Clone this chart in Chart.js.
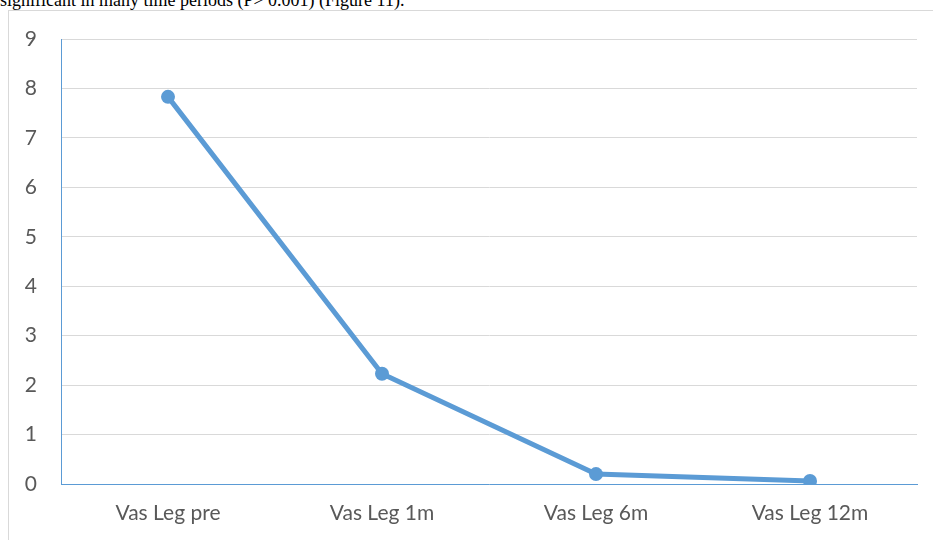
<!DOCTYPE html>
<html>
<head>
<meta charset="utf-8">
<script src="https://cdn.jsdelivr.net/npm/chart.js@4/dist/chart.umd.min.js"></script>
<style>
  html, body { margin: 0; padding: 0; background: #fff; overflow: hidden; }
  body { width: 933px; height: 540px; position: relative; }
  #caption {
    position: absolute; left: 0; top: -9px; margin: 0;
    font-family: "Liberation Serif", "Times New Roman", serif;
    font-size: 18px; line-height: 18px; color: #000; white-space: nowrap;
  }
  #frame {
    position: absolute; left: 8px; top: 10px; width: 940px; height: 560px;
    border: 1px solid #d9d9d9; box-sizing: border-box;
  }
  #wrap { position: absolute; left: 0; top: 0; width: 933px; height: 540px; }
</style>
</head>
<body>
<p id="caption">significant in many time periods (P&gt; 0.001) (Figure 11).</p>
<div id="frame"></div>
<div id="wrap"><canvas id="chart" width="933" height="540"></canvas></div>
<script>
// Vascular leg scores over follow-up
const categories = ["Vas Leg pre", "Vas Leg 1m", "Vas Leg 6m", "Vas Leg 12m"];
const scores = [7.83, 2.23, 0.2, 0.06];
const yTicks = [0, 1, 2, 3, 4, 5, 6, 7, 8, 9];

const blue = "#5b9bd5";
const textColor = "#595959";
const font = { family: "Lato, 'Open Sans', sans-serif", size: 21 };

new Chart(document.getElementById("chart"), {
  type: "line",
  data: {
    labels: categories,
    datasets: [{
      data: scores,
      borderColor: blue,
      backgroundColor: blue,
      borderWidth: 5,
      pointRadius: 7,
      pointHoverRadius: 7,
      pointBorderWidth: 0,
      tension: 0,
      fill: false
    }]
  },
  options: {
    responsive: false,
    animation: false,
    devicePixelRatio: 1,
    layout: { padding: { left: 0, right: 16, top: 39, bottom: 0 } },
    plugins: { legend: { display: false }, tooltip: { enabled: false } },
    scales: {
      x: {
        offset: true,
        grid: { display: false, drawTicks: false },
        border: { display: true, color: blue, width: 1 },
        ticks: { color: textColor, font: font, padding: 17, maxRotation: 0 },
        afterFit: s => { s.height = 56; }
      },
      y: {
        min: yTicks[0],
        max: yTicks[yTicks.length - 1],
        afterBuildTicks: s => { s.ticks = yTicks.map(v => ({ value: v })); },
        grid: { color: "#d9d9d9", lineWidth: 1, drawTicks: false },
        border: { display: true, color: blue, width: 1 },
        ticks: { color: textColor, font: font, padding: 24 },
        afterFit: s => { s.width = 61; }
      }
    }
  }
});
</script>
</body>
</html>
